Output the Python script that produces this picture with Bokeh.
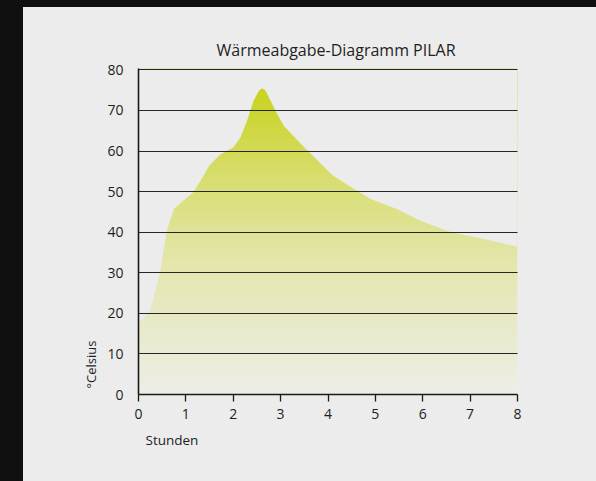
import numpy as np
from bokeh.plotting import figure
from bokeh.models import Range1d, FixedTicker, ColumnDataSource, Title
from bokeh.embed import file_html
from bokeh.resources import INLINE

# ---- data ----
hours = [0, 0.25, 0.46, 0.6, 0.75, 0.9, 1.15, 1.31, 1.5, 1.73, 2.0, 2.15, 2.29,
         2.43, 2.54, 2.61, 2.68, 2.78, 2.93, 3.07, 3.45, 4.1, 4.5, 4.9, 5.45, 5.95,
         6.6, 7.3, 8.0]
temps = [17.5, 20.7, 30.5, 40.4, 45.8, 47.3, 49.8, 52.7, 56.5, 59.2, 60.9, 63.3, 67.4,
         72.4, 74.8, 75.5, 74.9, 72.6, 69.1, 66.2, 61.5, 54.0, 51.0, 48.2, 45.7, 42.8,
         40.0, 38.3, 36.4]
x_ticks = [0, 1, 2, 3, 4, 5, 6, 7, 8]
y_ticks = [0, 10, 20, 30, 40, 50, 60, 70, 80]
title_text = "Wärmeabgabe-Diagramm PILAR"
x_label = "Stunden"
y_label = "°Celsius"

FONT = "Open Sans"
BG = "#ececec"
TXT = "#1e1e1e"
YMAX = 80.35

p = figure(width=573, height=472, output_backend="svg", toolbar_location=None,
           x_range=Range1d(0, 8), y_range=Range1d(0, YMAX),
           background_fill_color=BG, border_fill_color=BG,
           min_border_left=115, min_border_right=79, min_border_top=61, min_border_bottom=85)
p.outline_line_color = None

# title
p.title.text = title_text
p.title.align = "left"
p.title.offset = 78
p.title.text_font = FONT
p.title.text_font_size = "16px"
p.title.text_font_style = "normal"
p.title.text_color = TXT
p.title.standoff = 15

# gradient bands (style), then cover the area above the curve
stops_v = [0, 33, 53, 76]
stops_c = [(238, 238, 232), (228, 230, 172), (216, 222, 112), (200, 211, 28)]
levels = np.arange(0, 80, 1.0)
cols = []
for lv in levels:
    m = lv + 0.5
    r = np.interp(m, stops_v, [c[0] for c in stops_c])
    g = np.interp(m, stops_v, [c[1] for c in stops_c])
    b = np.interp(m, stops_v, [c[2] for c in stops_c])
    cols.append("#%02x%02x%02x" % (int(r), int(g), int(b)))
p.quad(left=0, right=8, bottom=levels, top=levels + 1.6, fill_color=cols, line_color=None)

src = ColumnDataSource(dict(x=hours, y=temps, top=[YMAX + 1] * len(hours)))
p.varea(x="x", y1="y", y2="top", source=src, fill_color=BG)

# axes
p.xaxis.ticker = FixedTicker(ticks=x_ticks)
p.yaxis.ticker = FixedTicker(ticks=y_ticks)
for ax in (p.xaxis[0], p.yaxis[0]):
    ax.axis_line_color = "#1a1a1a"
    ax.axis_line_width = 1.6
    ax.minor_tick_line_color = None
    ax.major_label_text_font = FONT
    ax.major_label_text_font_size = "14px"
    ax.major_label_text_color = TXT
p.xaxis.major_tick_line_color = "#1a1a1a"
p.xaxis.major_tick_line_width = 1.3
p.xaxis.major_tick_out = 7
p.xaxis.major_tick_in = 0
p.xaxis.major_label_standoff = 7
p.yaxis.major_tick_line_color = None
p.yaxis.major_label_standoff = 9

p.xgrid.grid_line_color = None
p.ygrid.ticker = FixedTicker(ticks=y_ticks)
p.ygrid.grid_line_color = "#262626"
p.ygrid.grid_line_width = 1.2
p.ygrid.level = "overlay"

# axis titles placed like the reference
p.add_layout(Title(text=x_label, align="left", offset=7, text_font=FONT,
                   text_font_size="13.5px", text_font_style="normal", text_color=TXT,
                   standoff=15), "below")
p.add_layout(Title(text=y_label, align="left", offset=6, text_font=FONT,
                   text_font_size="13px", text_font_style="normal", text_color=TXT,
                   standoff=10), "left")

html = file_html(p, INLINE)
css = ("<style>html,body{overflow:hidden;scrollbar-width:none;}"
       "html{background:#ececec;}</style></head>")
html = html.replace("</head>", css, 1)
hi = html.find("</head>")
bi = html.find("<body", hi)
be = html.find(">", bi)
body_style = ("margin:0;padding:7px 0 0 23px;height:481px;box-sizing:border-box;"
              "background:linear-gradient(#101010,#101010) 0 0/100% 7px no-repeat,"
              "linear-gradient(#101010,#101010) 0 0/23px 100% no-repeat,#ececec")
html = html[:bi] + '<body style="' + body_style + '">' + html[be + 1:]
open("out.html", "w").write(html)
